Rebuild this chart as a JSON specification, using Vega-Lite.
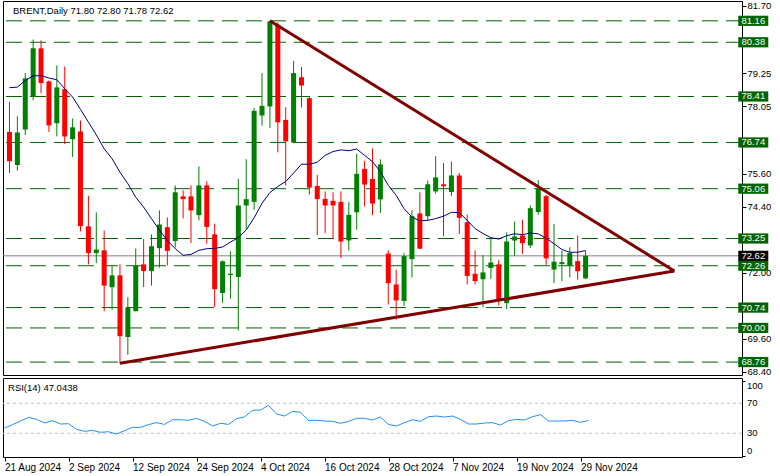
{
  "$schema": "https://vega.github.io/schema/vega-lite/v6.json",
  "background": "#ffffff",
  "padding": {"left": 2, "top": 0, "right": 0, "bottom": 0},
  "spacing": 0,
  "config": {
    "font": "Liberation Sans",
    "view": {"stroke": "#000000", "strokeWidth": 1},
    "axis": {"labelFont": "Liberation Sans", "labelFontSize": 9.5, "labelColor": "#000000", "tickColor": "#000000", "domain": false, "grid": false, "labelOverlap": false}
  },
  "datasets": {
    "bars": [
      {"i":0,"o":77.12,"h":78.21,"l":75.63,"c":76.06,"ma":78.73,"rsi":37.0},
      {"i":1,"o":75.92,"h":77.69,"l":75.72,"c":77.10,"ma":78.75,"rsi":41.5},
      {"i":2,"o":77.21,"h":79.26,"l":77.01,"c":79.07,"ma":78.99,"rsi":46.4},
      {"i":3,"o":78.42,"h":80.48,"l":78.27,"c":80.16,"ma":79.16,"rsi":51.3},
      {"i":4,"o":80.16,"h":80.45,"l":78.53,"c":78.90,"ma":79.17,"rsi":48.6},
      {"i":5,"o":78.96,"h":78.99,"l":77.12,"c":77.36,"ma":79.08,"rsi":43.7},
      {"i":6,"o":77.44,"h":79.54,"l":76.96,"c":78.74,"ma":79.02,"rsi":46.8},
      {"i":7,"o":78.67,"h":79.50,"l":76.68,"c":76.96,"ma":78.69,"rsi":42.4},
      {"i":8,"o":76.86,"h":77.61,"l":76.21,"c":77.29,"ma":78.39,"rsi":42.8},
      {"i":9,"o":77.14,"h":77.54,"l":73.51,"c":73.70,"ma":77.94,"rsi":35.3},
      {"i":10,"o":73.69,"h":74.80,"l":72.31,"c":72.72,"ma":77.48,"rsi":32.6},
      {"i":11,"o":72.72,"h":74.20,"l":72.36,"c":72.85,"ma":77.02,"rsi":33.9},
      {"i":12,"o":72.82,"h":73.54,"l":70.61,"c":71.54,"ma":76.51,"rsi":31.3},
      {"i":13,"o":71.48,"h":72.26,"l":70.66,"c":71.91,"ma":76.15,"rsi":32.1},
      {"i":14,"o":71.91,"h":72.31,"l":68.70,"c":69.70,"ma":75.66,"rsi":29.0},
      {"i":15,"o":69.67,"h":71.12,"l":69.02,"c":70.73,"ma":75.24,"rsi":33.5},
      {"i":16,"o":70.61,"h":72.89,"l":70.60,"c":72.26,"ma":74.75,"rsi":37.9},
      {"i":17,"o":72.31,"h":73.23,"l":71.49,"c":72.07,"ma":74.39,"rsi":37.9},
      {"i":18,"o":72.07,"h":73.40,"l":71.54,"c":72.97,"ma":73.97,"rsi":41.5},
      {"i":19,"o":72.90,"h":74.27,"l":72.19,"c":73.76,"ma":73.55,"rsi":44.2},
      {"i":20,"o":73.66,"h":74.01,"l":72.27,"c":72.80,"ma":73.18,"rsi":41.9},
      {"i":21,"o":73.16,"h":75.18,"l":72.92,"c":74.93,"ma":72.88,"rsi":48.1},
      {"i":22,"o":74.78,"h":75.00,"l":73.98,"c":74.68,"ma":72.64,"rsi":48.1},
      {"i":23,"o":74.78,"h":75.18,"l":73.09,"c":74.27,"ma":72.67,"rsi":47.3},
      {"i":24,"o":74.10,"h":75.87,"l":73.91,"c":75.18,"ma":72.82,"rsi":49.9},
      {"i":25,"o":75.18,"h":75.33,"l":73.06,"c":73.67,"ma":72.88,"rsi":45.9},
      {"i":26,"o":73.40,"h":73.79,"l":70.76,"c":71.41,"ma":72.89,"rsi":39.7},
      {"i":27,"o":71.27,"h":72.46,"l":70.91,"c":72.42,"ma":72.94,"rsi":43.3},
      {"i":28,"o":71.92,"h":72.78,"l":71.06,"c":71.97,"ma":73.12,"rsi":41.9},
      {"i":29,"o":71.85,"h":75.42,"l":69.91,"c":74.45,"ma":73.28,"rsi":49.5},
      {"i":30,"o":74.45,"h":76.13,"l":73.57,"c":74.68,"ma":73.56,"rsi":51.7},
      {"i":31,"o":74.58,"h":77.99,"l":74.29,"c":77.89,"ma":74.00,"rsi":60.6},
      {"i":32,"o":77.72,"h":79.26,"l":77.35,"c":78.07,"ma":74.53,"rsi":61.0},
      {"i":33,"o":78.05,"h":81.16,"l":77.26,"c":81.14,"ma":74.92,"rsi":67.3},
      {"i":34,"o":81.02,"h":81.11,"l":76.38,"c":77.47,"ma":75.14,"rsi":55.7},
      {"i":35,"o":77.56,"h":78.02,"l":75.18,"c":76.78,"ma":75.32,"rsi":53.0},
      {"i":36,"o":76.74,"h":79.71,"l":76.71,"c":79.26,"ma":75.63,"rsi":59.3},
      {"i":37,"o":79.11,"h":79.48,"l":78.01,"c":78.81,"ma":75.95,"rsi":57.9},
      {"i":38,"o":78.35,"h":78.39,"l":74.84,"c":75.10,"ma":75.95,"rsi":47.3},
      {"i":39,"o":75.16,"h":75.56,"l":73.37,"c":74.68,"ma":76.02,"rsi":47.3},
      {"i":40,"o":74.69,"h":74.96,"l":73.44,"c":74.45,"ma":76.27,"rsi":46.4},
      {"i":41,"o":74.62,"h":74.93,"l":73.25,"c":74.45,"ma":76.41,"rsi":45.9},
      {"i":42,"o":74.58,"h":74.96,"l":72.54,"c":73.14,"ma":76.47,"rsi":43.3},
      {"i":43,"o":73.18,"h":74.58,"l":72.81,"c":74.11,"ma":76.44,"rsi":45.9},
      {"i":44,"o":74.20,"h":76.33,"l":73.57,"c":75.60,"ma":76.50,"rsi":49.9},
      {"i":45,"o":75.78,"h":76.07,"l":74.41,"c":75.21,"ma":76.27,"rsi":49.9},
      {"i":46,"o":75.41,"h":76.52,"l":74.10,"c":74.52,"ma":76.04,"rsi":47.7},
      {"i":47,"o":74.67,"h":76.13,"l":74.18,"c":75.94,"ma":75.68,"rsi":51.7},
      {"i":48,"o":72.70,"h":72.82,"l":70.85,"c":71.63,"ma":75.18,"rsi":41.7},
      {"i":49,"o":71.58,"h":72.12,"l":70.30,"c":71.00,"ma":74.82,"rsi":39.7},
      {"i":50,"o":70.98,"h":72.72,"l":70.80,"c":72.61,"ma":74.33,"rsi":44.2},
      {"i":51,"o":72.50,"h":74.27,"l":71.83,"c":74.06,"ma":74.03,"rsi":48.1},
      {"i":52,"o":74.16,"h":74.93,"l":72.87,"c":72.88,"ma":73.89,"rsi":45.9},
      {"i":53,"o":74.06,"h":75.36,"l":73.91,"c":75.22,"ma":73.91,"rsi":52.1},
      {"i":54,"o":74.96,"h":76.24,"l":74.88,"c":75.47,"ma":73.97,"rsi":53.0},
      {"i":55,"o":75.22,"h":75.99,"l":73.33,"c":75.15,"ma":74.06,"rsi":51.7},
      {"i":56,"o":74.94,"h":76.05,"l":74.80,"c":75.54,"ma":74.20,"rsi":53.0},
      {"i":57,"o":75.54,"h":75.63,"l":73.41,"c":74.00,"ma":74.19,"rsi":48.6},
      {"i":58,"o":73.84,"h":74.12,"l":71.58,"c":71.89,"ma":73.91,"rsi":42.4},
      {"i":59,"o":71.97,"h":72.82,"l":71.58,"c":71.70,"ma":73.61,"rsi":42.4},
      {"i":60,"o":71.77,"h":72.64,"l":70.75,"c":72.02,"ma":73.43,"rsi":43.7},
      {"i":61,"o":72.18,"h":73.24,"l":71.78,"c":72.38,"ma":73.28,"rsi":44.2},
      {"i":62,"o":72.31,"h":72.47,"l":70.82,"c":71.00,"ma":73.23,"rsi":41.0},
      {"i":63,"o":70.90,"h":73.47,"l":70.69,"c":73.14,"ma":73.35,"rsi":46.8},
      {"i":64,"o":73.18,"h":73.87,"l":72.62,"c":73.32,"ma":73.42,"rsi":48.6},
      {"i":65,"o":73.36,"h":73.93,"l":72.69,"c":73.08,"ma":73.39,"rsi":47.7},
      {"i":66,"o":73.00,"h":74.45,"l":72.91,"c":74.35,"ma":73.45,"rsi":52.1},
      {"i":67,"o":74.21,"h":75.38,"l":74.11,"c":75.05,"ma":73.42,"rsi":54.8},
      {"i":68,"o":74.79,"h":74.84,"l":72.29,"c":72.53,"ma":73.26,"rsi":46.4},
      {"i":69,"o":72.12,"h":73.78,"l":71.63,"c":72.41,"ma":73.06,"rsi":46.4},
      {"i":70,"o":72.32,"h":72.81,"l":71.70,"c":72.39,"ma":72.85,"rsi":46.4},
      {"i":71,"o":72.26,"h":72.93,"l":71.84,"c":72.72,"ma":72.75,"rsi":47.3},
      {"i":72,"o":72.43,"h":73.36,"l":71.75,"c":72.06,"ma":72.75,"rsi":44.6},
      {"i":73,"o":71.80,"h":72.80,"l":71.78,"c":72.62,"ma":72.81,"rsi":47.04}
    ],
    "levels": [
      {"level":81.16,"label":"81.16"},
      {"level":80.38,"label":"80.38"},
      {"level":78.41,"label":"78.41"},
      {"level":76.74,"label":"76.74"},
      {"level":75.06,"label":"75.06"},
      {"level":73.25,"label":"73.25"},
      {"level":72.26,"label":"72.26"},
      {"level":70.74,"label":"70.74"},
      {"level":70.00,"label":"70.00"},
      {"level":68.76,"label":"68.76"}
    ],
    "trend": [
      {"line":"upper","i":33,"p":81.16},
      {"line":"upper","i":84.25,"p":72.07},
      {"line":"lower","i":14,"p":68.72},
      {"line":"lower","i":84.25,"p":72.07}
    ],
    "rsiLevels": [{"lvl":70},{"lvl":30}],
    "rsiTicks": [{"v":100,"label":"100"},{"v":70,"label":"70"},{"v":30,"label":"30"},{"v":0,"label":"0"}],
    "bid": [{"price":72.62,"label":"72.62"}]
  },
  "vconcat": [
    {
      "width": 739,
      "height": 374,
      "layer": [
        {
          "data": {"name": "levels"},
          "mark": {"type": "rule", "color": "#006400", "strokeWidth": 1, "strokeDash": [16, 8]},
          "encoding": {
            "y": {"field": "level", "type": "quantitative", "title": null,
                  "scale": {"domain": [68.29, 81.88], "nice": false, "zero": false},
                  "axis": {"orient": "right", "values": [68.4, 69.6, 72.0, 74.4, 75.6, 78.05, 79.25, 81.7], "format": ".2f", "tickSize": 4, "labelPadding": 1, "labelOverlap": false, "title": null}}
          }
        },
        {
          "data": {"name": "bid"},
          "mark": {"type": "rule", "color": "#808080", "strokeWidth": 1},
          "encoding": {
            "y": {"field": "price", "type": "quantitative", "title": null,
                  "scale": {"domain": [68.29, 81.88], "nice": false, "zero": false}}
          }
        },
        {
          "data": {"name": "bars"},
          "mark": {"type": "rule", "strokeWidth": 1},
          "encoding": {
            "x": {"field": "i", "type": "quantitative", "title": null, "axis": null,
                  "scale": {"domain": [-0.1875, 92.1875], "nice": false, "zero": false}},
            "y": {"field": "l", "type": "quantitative", "title": null,
                  "scale": {"domain": [68.29, 81.88], "nice": false, "zero": false}},
            "y2": {"field": "h"},
            "color": {"condition": {"test": "datum.c >= datum.o", "value": "#008000"}, "value": "#ff0000"}
          }
        },
        {
          "data": {"name": "bars"},
          "mark": {"type": "bar", "size": 5},
          "encoding": {
            "x": {"field": "i", "type": "quantitative", "title": null, "axis": null,
                  "scale": {"domain": [-0.1875, 92.1875], "nice": false, "zero": false}},
            "y": {"field": "o", "type": "quantitative", "title": null,
                  "scale": {"domain": [68.29, 81.88], "nice": false, "zero": false}},
            "y2": {"field": "c"},
            "color": {"condition": {"test": "datum.c >= datum.o", "value": "#008000"}, "value": "#ff0000"}
          }
        },
        {
          "data": {"name": "bars"},
          "mark": {"type": "line", "color": "#000080", "strokeWidth": 1},
          "encoding": {
            "x": {"field": "i", "type": "quantitative", "title": null, "axis": null,
                  "scale": {"domain": [-0.1875, 92.1875], "nice": false, "zero": false}},
            "y": {"field": "ma", "type": "quantitative", "title": null,
                  "scale": {"domain": [68.29, 81.88], "nice": false, "zero": false}}
          }
        },
        {
          "data": {"name": "trend"},
          "mark": {"type": "line", "color": "#800000", "strokeWidth": 3},
          "encoding": {
            "x": {"field": "i", "type": "quantitative", "title": null, "axis": null,
                  "scale": {"domain": [-0.1875, 92.1875], "nice": false, "zero": false}},
            "y": {"field": "p", "type": "quantitative", "title": null,
                  "scale": {"domain": [68.29, 81.88], "nice": false, "zero": false}},
            "detail": {"field": "line"}
          }
        },
        {
          "data": {"name": "levels"},
          "mark": {"type": "point", "shape": "M-1,-0.34L1,-0.34L1,0.34L-1,0.34Z", "size": 900, "filled": true, "opacity": 1, "color": "#006400", "strokeWidth": 0},
          "encoding": {
            "x": {"datum": 94.25, "type": "quantitative", "axis": null,
                  "scale": {"domain": [-0.1875, 92.1875], "nice": false, "zero": false}},
            "y": {"field": "level", "type": "quantitative", "title": null,
                  "scale": {"domain": [68.29, 81.88], "nice": false, "zero": false}}
          }
        },
        {
          "data": {"name": "levels"},
          "mark": {"type": "text", "color": "#ffffff", "fontSize": 9.5, "align": "center", "baseline": "middle"},
          "encoding": {
            "x": {"datum": 94.25, "type": "quantitative", "axis": null,
                  "scale": {"domain": [-0.1875, 92.1875], "nice": false, "zero": false}},
            "y": {"field": "level", "type": "quantitative", "title": null,
                  "scale": {"domain": [68.29, 81.88], "nice": false, "zero": false}},
            "text": {"field": "label"}
          }
        },
        {
          "data": {"name": "bid"},
          "mark": {"type": "point", "shape": "M-1,-0.34L1,-0.34L1,0.34L-1,0.34Z", "size": 900, "filled": true, "opacity": 1, "color": "#000000", "strokeWidth": 0},
          "encoding": {
            "x": {"datum": 94.25, "type": "quantitative", "axis": null,
                  "scale": {"domain": [-0.1875, 92.1875], "nice": false, "zero": false}},
            "y": {"field": "price", "type": "quantitative", "title": null,
                  "scale": {"domain": [68.29, 81.88], "nice": false, "zero": false}}
          }
        },
        {
          "data": {"name": "bid"},
          "mark": {"type": "text", "color": "#ffffff", "fontSize": 9.5, "align": "center", "baseline": "middle"},
          "encoding": {
            "x": {"datum": 94.25, "type": "quantitative", "axis": null,
                  "scale": {"domain": [-0.1875, 92.1875], "nice": false, "zero": false}},
            "y": {"field": "price", "type": "quantitative", "title": null,
                  "scale": {"domain": [68.29, 81.88], "nice": false, "zero": false}},
            "text": {"field": "label"}
          }
        },
        {
          "data": {"values": [{}]},
          "mark": {"type": "text", "color": "#000000", "fontSize": 9.5, "align": "left", "baseline": "middle", "text": "BRENT,Daily  71.80 72.80 71.78 72.62"},
          "encoding": {
            "x": {"datum": 0.44, "type": "quantitative", "axis": null,
                  "scale": {"domain": [-0.1875, 92.1875], "nice": false, "zero": false}},
            "y": {"datum": 81.52, "type": "quantitative",
                  "scale": {"domain": [68.29, 81.88], "nice": false, "zero": false}}
          }
        }
      ]
    },
    {
      "width": 739,
      "height": 79,
      "layer": [
        {
          "data": {"name": "rsiLevels"},
          "mark": {"type": "rule", "color": "#c0c0c0", "strokeWidth": 1, "strokeDash": [3, 3]},
          "encoding": {
            "y": {"field": "lvl", "type": "quantitative", "title": null,
                  "scale": {"domain": [-1.6, 103.7], "nice": false, "zero": false}}
          }
        },
        {
          "data": {"name": "bars"},
          "mark": {"type": "line", "color": "#1e90ff", "strokeWidth": 1},
          "encoding": {
            "x": {"field": "i", "type": "quantitative", "title": null,
                  "scale": {"domain": [-0.1875, 92.1875], "nice": false, "zero": false},
                  "axis": {"values": [0, 8, 16, 24, 32, 40, 48, 56, 64, 72], "tickSize": 4, "labelPadding": 1, "labelAlign": "left", "labelFlush": false, "labelOverlap": false, "labelFontSize": 10, "title": null,
                           "labelExpr": "['21 Aug 2024','2 Sep 2024','12 Sep 2024','24 Sep 2024','4 Oct 2024','16 Oct 2024','28 Oct 2024','7 Nov 2024','19 Nov 2024','29 Nov 2024'][round(datum.value / 8)]"}},
            "y": {"field": "rsi", "type": "quantitative", "title": null,
                  "scale": {"domain": [-1.6, 103.7], "nice": false, "zero": false},
                  "axis": {"orient": "right", "values": [0, 30, 70, 100], "tickSize": 3, "labels": false, "title": null}}
          }
        },
        {
          "data": {"name": "rsiTicks"},
          "transform": [{"filter": "datum.v == 100"}],
          "mark": {"type": "text", "color": "#000000", "fontSize": 9.5, "align": "left", "baseline": "top"},
          "encoding": {
            "x": {"datum": 92.8, "type": "quantitative",
                  "scale": {"domain": [-0.1875, 92.1875], "nice": false, "zero": false}},
            "y": {"field": "v", "type": "quantitative", "title": null,
                  "scale": {"domain": [-1.6, 103.7], "nice": false, "zero": false}},
            "text": {"field": "label"}
          }
        },
        {
          "data": {"name": "rsiTicks"},
          "transform": [{"filter": "datum.v == 70 || datum.v == 30"}],
          "mark": {"type": "text", "color": "#000000", "fontSize": 9.5, "align": "left", "baseline": "middle"},
          "encoding": {
            "x": {"datum": 92.8, "type": "quantitative",
                  "scale": {"domain": [-0.1875, 92.1875], "nice": false, "zero": false}},
            "y": {"field": "v", "type": "quantitative", "title": null,
                  "scale": {"domain": [-1.6, 103.7], "nice": false, "zero": false}},
            "text": {"field": "label"}
          }
        },
        {
          "data": {"name": "rsiTicks"},
          "transform": [{"filter": "datum.v == 0"}],
          "mark": {"type": "text", "color": "#000000", "fontSize": 9.5, "align": "left", "baseline": "bottom"},
          "encoding": {
            "x": {"datum": 92.8, "type": "quantitative",
                  "scale": {"domain": [-0.1875, 92.1875], "nice": false, "zero": false}},
            "y": {"field": "v", "type": "quantitative", "title": null,
                  "scale": {"domain": [-1.6, 103.7], "nice": false, "zero": false}},
            "text": {"field": "label"}
          }
        },
        {
          "data": {"values": [{}]},
          "mark": {"type": "text", "color": "#000000", "fontSize": 9.5, "align": "left", "baseline": "middle", "text": "RSI(14) 47.0438"},
          "encoding": {
            "x": {"datum": 0.44, "type": "quantitative",
                  "scale": {"domain": [-0.1875, 92.1875], "nice": false, "zero": false}},
            "y": {"datum": 90.4, "type": "quantitative",
                  "scale": {"domain": [-1.6, 103.7], "nice": false, "zero": false}}
          }
        }
      ]
    }
  ]
}
